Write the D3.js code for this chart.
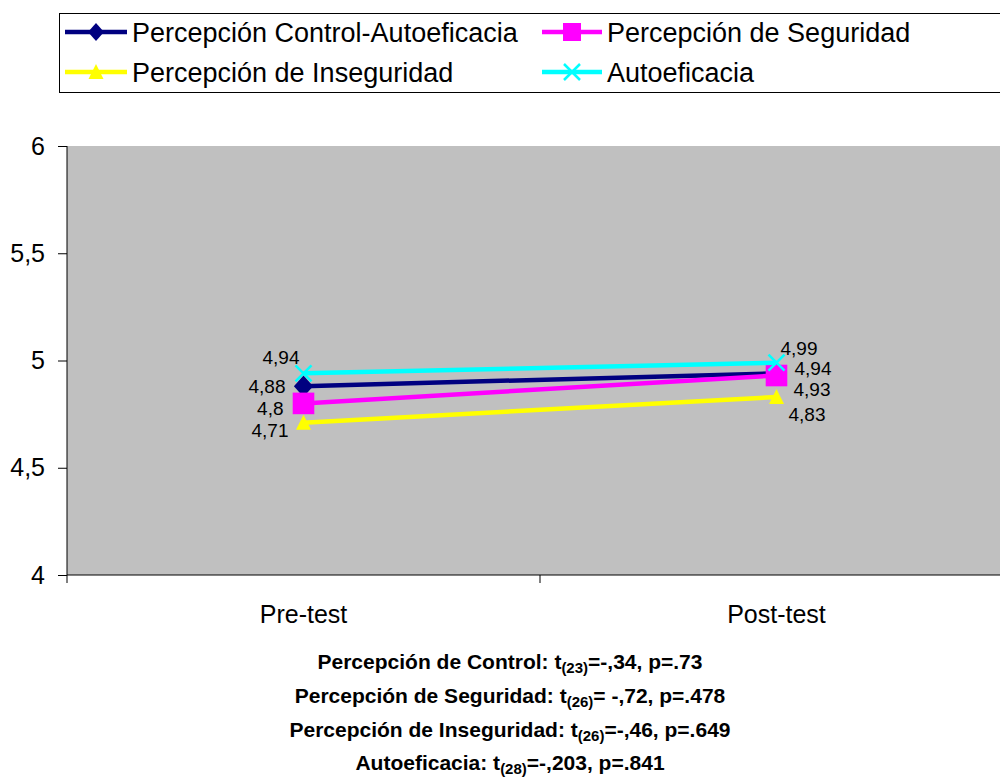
<!DOCTYPE html>
<html>
<head>
<meta charset="utf-8">
<script src="https://cdn.jsdelivr.net/npm/d3@7"></script>
<style>
  body { margin: 0; background: #fff; }
  svg { display: block; font-family: "Liberation Sans", Arial, sans-serif; }
</style>
</head>
<body>
<script>
// data
const categories = ['Pre-test', 'Post-test']
const seriesNames = ['Percepción Control-Autoeficacia', 'Percepción de Seguridad', 'Percepción de Inseguridad', 'Autoeficacia']
const controlVals = [4.88, 4.94]
const seguridadVals = [4.8, 4.93]
const inseguridadVals = [4.71, 4.83]
const autoVals = [4.94, 4.99]
const yTicks = [4, 4.5, 5, 5.5, 6]
const notes = [
  ['Percepción de Control: t', '(23)', '=-,34, p=.73'],
  ['Percepción de Seguridad: t', '(26)', '= -,72, p=.478'],
  ['Percepción de Inseguridad: t', '(26)', '=-,46, p=.649'],
  ['Autoeficacia: t', '(28)', '=-,203, p=.841']
]

const colors = ['#000080', '#FF00FF', '#FFFF00', '#00FFFF']
const markers = ['diamond', 'square', 'triangle', 'cross']
const allVals = [controlVals, seguridadVals, inseguridadVals, autoVals]

// label nudges (pre, post) per series: [dx, dy, anchor]
const labelPos = [
  [[-18, 0, 'end'], [18, -5, 'start']],
  [[-20, 5, 'end'], [17, 14, 'start']],
  [[-15, 8, 'end'], [12, 17, 'start']],
  [[-4, -16, 'end'], [4, -14, 'start']]
]

const W = 1000, H = 779
const margin = {top: 146, left: 67, bottom: 575}
const plotRight = 1013

const svg = d3.select('body').append('svg').attr('width', W).attr('height', H)

const x = d3.scaleBand().domain(categories).range([margin.left, plotRight])
const y = d3.scaleLinear().domain([4, 6]).range([margin.bottom, margin.top])

svg.append('rect')
  .attr('x', margin.left).attr('y', margin.top)
  .attr('width', plotRight - margin.left).attr('height', margin.bottom - margin.top)
  .attr('fill', '#C0C0C0')

// y axis
const yAxis = svg.append('g').attr('transform', 'translate(' + margin.left + ',0)')
  .call(d3.axisLeft(y).tickValues(yTicks).tickSize(9).tickPadding(13)
    .tickFormat(d => String(d).replace('.', ',')))
yAxis.select('.domain').attr('d', 'M0,' + margin.top + 'V' + (margin.bottom + 8))
yAxis.selectAll('text').attr('font-size', 25).attr('fill', '#000').attr('font-family', 'Liberation Sans, Arial, sans-serif')
yAxis.selectAll('line').attr('stroke', '#000')
yAxis.select('.domain').attr('stroke', '#000')

// x axis
const xAxis = svg.append('g').attr('transform', 'translate(0,' + margin.bottom + ')')
xAxis.append('line').attr('x1', margin.left).attr('x2', plotRight).attr('stroke', '#000')
xAxis.append('line')
  .attr('x1', x('Post-test')).attr('x2', x('Post-test'))
  .attr('y1', 0).attr('y2', 8).attr('stroke', '#000')
xAxis.selectAll('text.cat').data(categories).join('text')
  .attr('class', 'cat')
  .attr('x', d => x(d) + x.bandwidth() / 2)
  .attr('y', 48)
  .attr('text-anchor', 'middle')
  .attr('font-size', 25)
  .text(d => d)

const line = d3.line()
  .x((d, i) => x(categories[i]) + x.bandwidth() / 2)
  .y(d => y(d))

function drawMarker(g, type, color, k) {
  if (type === 'diamond') {
    g.append('path').attr('d', 'M0,-9L8,0L0,9L-8,0Z').attr('fill', color)
      .attr('transform', 'scale(' + k + ')')
  } else if (type === 'square') {
    g.append('rect').attr('x', -9).attr('y', -9)
      .attr('width', 18).attr('height', 18).attr('fill', color)
      .attr('transform', 'scale(' + k + ')')
  } else if (type === 'triangle') {
    g.append('path').attr('d', 'M0,-8L7.5,7L-7.5,7Z').attr('fill', color)
  } else {
    g.append('path').attr('d', 'M-8,-8L8,8M-8,8L8,-8')
      .attr('stroke', color).attr('stroke-width', 2.5).attr('fill', 'none')
  }
}

allVals.forEach((vals, s) => {
  const g = svg.append('g')
  g.append('path').datum(vals).attr('d', line)
    .attr('fill', 'none').attr('stroke', colors[s]).attr('stroke-width', 4.5)
  vals.forEach((v, i) => {
    const m = g.append('g')
      .attr('transform', 'translate(' + (x(categories[i]) + x.bandwidth() / 2) + ',' + y(v) + ')')
    drawMarker(m, markers[s], colors[s], 1.2)
  })
})

// data labels drawn last so they sit above the lines
allVals.forEach((vals, s) => {
  vals.forEach((v, i) => {
    const p = labelPos[s][i]
    svg.append('text')
      .attr('x', x(categories[i]) + x.bandwidth() / 2 + p[0])
      .attr('y', y(v) + p[1])
      .attr('dy', '0.35em')
      .attr('text-anchor', p[2])
      .attr('font-size', 19)
      .text(String(v).replace('.', ','))
  })
})

// legend
const legend = svg.append('g')
legend.append('rect').attr('x', 59.5).attr('y', 13.5).attr('width', 1000).attr('height', 79)
  .attr('fill', '#fff').attr('stroke', '#000')
const legPos = [[65, 32], [542, 32], [65, 72], [542, 72]]
const legLen = [62, 60, 62, 60]
seriesNames.forEach((name, s) => {
  const [lx, ly] = legPos[s]
  const item = legend.append('g').attr('transform', 'translate(' + lx + ',' + ly + ')')
  item.append('line').attr('x1', 0).attr('x2', legLen[s]).attr('stroke', colors[s]).attr('stroke-width', 4.5)
  drawMarker(item.append('g').attr('transform', 'translate(' + legLen[s] / 2 + ',0)'), markers[s], colors[s], 1)
  item.append('text').attr('x', legLen[s] + 5).attr('dy', '0.36em').attr('font-size', 27).text(name)
})

// t-test notes
const noteBase = [669, 703, 737, 770]
notes.forEach((n, i) => {
  const t = svg.append('text')
    .attr('x', 510).attr('y', noteBase[i])
    .attr('text-anchor', 'middle')
    .attr('font-size', 21).attr('font-weight', 'bold')
  t.append('tspan').text(n[0])
  t.append('tspan').attr('font-size', 15).attr('dy', 4).text(n[1])
  t.append('tspan').attr('dy', -4).text(n[2])
})
</script>
</body>
</html>
